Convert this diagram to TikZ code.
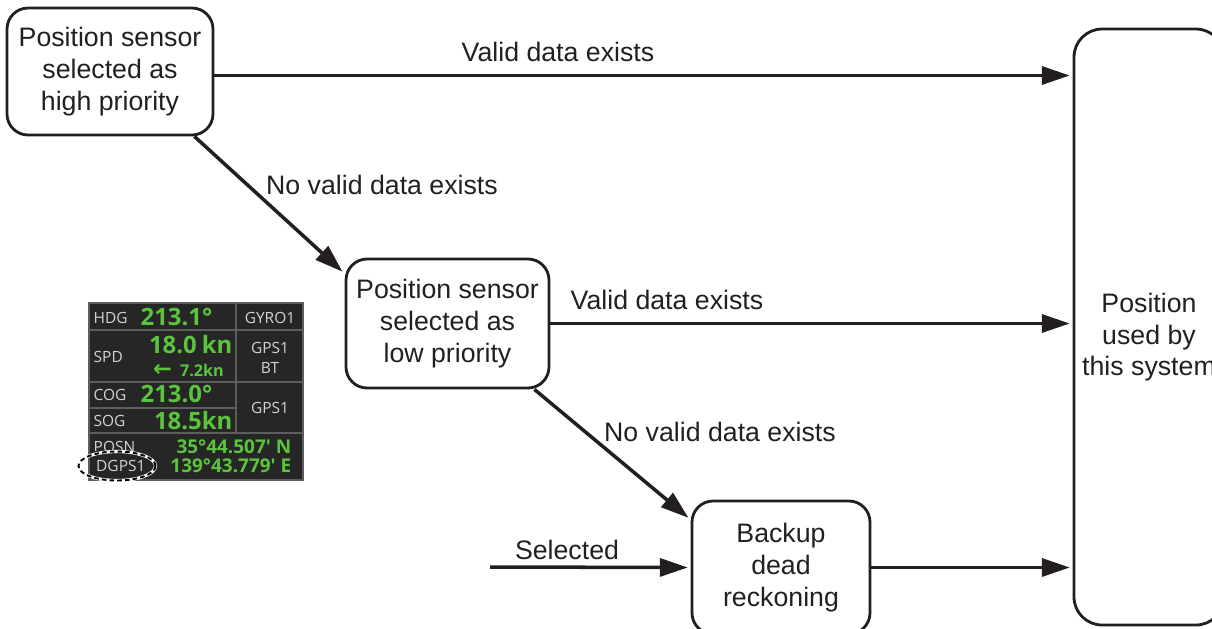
\documentclass[tikz,border=0pt]{standalone}
\usepackage{fontspec}
\setmainfont{Liberation Sans}
\newfontfamily\panelfont{Open Sans}
\newfontfamily\symfont{DejaVu Sans}
\usetikzlibrary{arrows.meta,positioning,calc,shapes.geometric}
\definecolor{inkblack}{HTML}{231F20}
\definecolor{panelbg}{HTML}{262626}
\definecolor{panelline}{HTML}{5E5E5E}
\definecolor{paneltext}{HTML}{D4D4D4}
\definecolor{fixgreen}{HTML}{5BC43C}

\begin{document}
\begin{tikzpicture}[
 flow/.style={rounded corners=6pt,draw=inkblack,line width=0.8pt,align=center,inner sep=2pt,text=inkblack,font=\fontsize{7.6}{9}\selectfont},
 arr/.style={draw=inkblack,line width=1pt,shorten >=0.8pt,-{Triangle[length=2.8mm,width=1.8mm]}},
 lbl/.style={inner sep=1pt,text=inkblack,font=\fontsize{7.6}{9}\selectfont},
 tag/.style={inner sep=0pt,text=paneltext,font=\panelfont\fontsize{4.4}{5.7}\selectfont},
 readout/.style={inner sep=0pt,text=fixgreen,font=\panelfont\bfseries\fontsize{6.8}{7}\selectfont},
 coord/.style={inner sep=0pt,text=fixgreen,font=\panelfont\bfseries\fontsize{5.4}{6}\selectfont},
 ring/.style={ellipse,draw=white,line width=0.9pt,minimum width=0.77cm,minimum height=0.29cm,inner sep=0pt,
  postaction={draw=black,line width=0.55pt,dash pattern=on 1.3pt off 0.9pt}}]
\useasboundingbox (0,0) rectangle (12.12,-6.28);
\clip (0,0) rectangle (12.12,-6.28);

% flow boxes
\node[flow,minimum width=2.06cm,minimum height=1.27cm] (high) at (1.10,-0.715) {Position sensor\\selected as\\high priority};
\node[flow,minimum width=2.03cm,minimum height=1.29cm] (low) at (4.475,-3.235) {Position sensor\\selected as\\low priority};
\node[flow,minimum width=1.78cm,minimum height=1.33cm] (dr) at (7.81,-5.675) {Backup\\dead\\reckoning};
\node[flow,rounded corners=8pt,minimum width=1.50cm,minimum height=5.96cm] (used) at (11.49,-3.27) {\rule{0pt}{0.40cm}Position\\used by\\this system};
\coordinate (selin) at (4.90,-5.67);

% connectors
\draw[arr] ([yshift=-0.04cm]high.east) -- ([yshift=-0.04cm]high.east -| used.west);
\draw[arr] (low.east) -- (low.east -| used.west);
\draw[arr] (dr.east) -- (dr.east -| used.west);
\draw[arr] ([xshift=-0.2cm]high.south east) -- ([yshift=-0.16cm]low.north west);
\draw[arr] ([xshift=-0.16cm]low.south east) -- ([yshift=-0.2cm]dr.north west);
\draw[arr] (selin) -- (dr.west);

\node[lbl] (valid1) at (5.58,-0.52) {Valid data exists};
\node[lbl] (valid2) at (6.67,-3.00) {Valid data exists};
\node[lbl] (novalid1) at (3.82,-1.85) {No valid data exists};
\node[lbl] (novalid2) at (7.20,-4.32) {No valid data exists};
\node[lbl] (sel) at (5.67,-5.50) {Selected};

% display panel
\fill[panelbg] (0.89,-3.03) rectangle (3.03,-4.80);
\draw[panelline,line width=0.4pt] (0.89,-3.03) rectangle (3.03,-4.80);
\draw[panelline,line width=0.4pt] (0.89,-3.30) -- (3.03,-3.30) (0.89,-3.82) -- (3.03,-3.82)
 (0.89,-4.08) -- (2.36,-4.08) (0.89,-4.33) -- (3.03,-4.33) (2.36,-3.03) -- (2.36,-4.33);

\node[tag,anchor=west] (hdg) at (0.93,-3.18) {HDG};
\node[readout,anchor=west] (hdgval) at (1.40,-3.17) {213.1°};
\node[tag] (gyro) at (2.70,-3.18) {GYRO1};
\node[tag,anchor=west] (spd) at (0.93,-3.57) {SPD};
\node[readout,anchor=east] (spdval) at (2.33,-3.45) {18.0\hspace{0.5mm}kn};
\node[coord,font=\panelfont\bfseries\fontsize{4.6}{5}\selectfont] (drift) at (1.885,-3.70) {{\symfont\bfseries\fontsize{6.4}{6}\selectfont ←}\hspace{0.8mm}7.2kn};
\node[tag,align=center] (spdsrc) at (2.70,-3.58) {GPS1\\BT};
\node[tag,anchor=west] (cog) at (0.93,-3.95) {COG};
\node[readout,anchor=west] (cogval) at (1.40,-3.94) {213.0°};
\node[tag,anchor=west] (sog) at (0.93,-4.21) {SOG};
\node[readout,anchor=east] (sogval) at (2.33,-4.21) {18.5kn};
\node[tag] (cogsrc) at (2.70,-4.08) {GPS1};
\node[tag,anchor=west] (posn) at (0.93,-4.47) {POSN};
\node[coord,anchor=east] (lat) at (2.92,-4.47) {35°44.507\textquotesingle\ N};
\node[tag,anchor=base west,fill=panelbg,inner xsep=1pt,text height=0.21cm,text depth=0.03cm] (dgps) at (0.92,-4.715) {DGPS1};
\node[coord,anchor=east] (lon) at (2.92,-4.66) {139°43.779\textquotesingle\ E};
\node[ring] (mark) at (1.17,-4.66) {};
\end{tikzpicture}
\end{document}
